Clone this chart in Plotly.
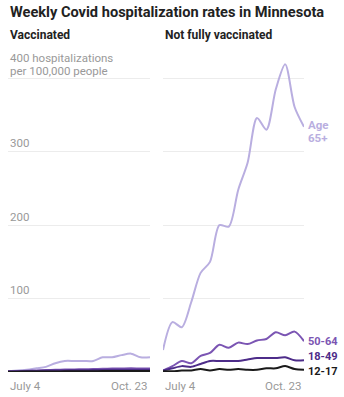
import plotly.graph_objects as go

# Weekly hospitalizations per 100,000 people, Minnesota, July 4 - Oct. 23
weeks = list(range(1, 17))
x_tick_labels = ["July 4", "Oct. 23"]
y_ticks = [100, 200, 300, 400]
y_unit_lines = ["400 hospitalizations", "per 100,000 people"]

age_groups = ["12-17", "18-49", "50-64", "65+"]

vaccinated_12_17 = [0.5, 0.5, 0.6, 0.7, 0.8, 0.8, 0.9, 1.0, 1.0, 1.1, 1.2, 1.2, 1.3, 1.4, 1.3, 1.3]
vaccinated_18_49 = [0.8, 1.0, 1.2, 1.5, 1.8, 2.0, 2.2, 2.3, 2.4, 2.6, 2.8, 3.0, 3.1, 3.2, 3.0, 3.0]
vaccinated_50_64 = [1.0, 1.3, 1.7, 2.2, 2.7, 3.0, 3.3, 3.5, 3.7, 4.0, 4.3, 4.6, 4.8, 5.0, 4.7, 4.6]
vaccinated_65 = [1, 2, 3, 5, 7, 12, 15, 15, 15, 15, 20, 20, 23, 25, 20, 20]

unvaccinated_12_17 = [1, 1, 2, 2, 4, 2, 4, 3, 4, 3, 3, 5, 5, 8, 4, 3]
unvaccinated_18_49 = [2, 5, 8, 7, 11, 15, 15, 15, 15, 17, 19, 19, 19, 20, 16, 16]
unvaccinated_50_64 = [2, 8, 15, 12, 22, 26, 37, 33, 40, 38, 43, 45, 54, 50, 55, 42]
unvaccinated_65 = [30, 68, 61, 95, 135, 150, 200, 198, 248, 285, 346, 330, 385, 419, 361, 334]

colors = {"12-17": "#1a1a1a", "18-49": "#4d2c89", "50-64": "#7b55b3", "65+": "#b9aee0"}

vaccinated = {"12-17": vaccinated_12_17, "18-49": vaccinated_18_49,
              "50-64": vaccinated_50_64, "65+": vaccinated_65}
unvaccinated = {"12-17": unvaccinated_12_17, "18-49": unvaccinated_18_49,
                "50-64": unvaccinated_50_64, "65+": unvaccinated_65}

FONT = "Roboto"
W, H = 344, 397

fig = go.Figure()

# draw the oldest group first so the darker lines sit on top
for age in reversed(age_groups):
    fig.add_trace(go.Scatter(x=weeks, y=vaccinated[age], mode="lines",
                             line=dict(color=colors[age], width=2, shape="spline", smoothing=0.8),
                             xaxis="x", yaxis="y", showlegend=False, hoverinfo="skip"))
    fig.add_trace(go.Scatter(x=weeks, y=unvaccinated[age], mode="lines",
                             line=dict(color=colors[age], width=2, shape="spline", smoothing=0.8),
                             xaxis="x2", yaxis="y2", showlegend=False, hoverinfo="skip"))

y_range = [0, 430]
y_domain = [1 - 372 / H, 1 - (372 - 430 * 0.7342) / H]
grid = dict(showgrid=True, gridcolor="#ececec", gridwidth=1, tickvals=y_ticks,
            showticklabels=False, zeroline=False, showline=False, range=y_range,
            domain=y_domain, fixedrange=True)
xax = dict(showgrid=False, zeroline=False, showline=False, showticklabels=False,
           range=[weeks[0], weeks[-1]], fixedrange=True)

fig.update_layout(
    width=W, height=H,
    margin=dict(l=0, r=0, t=0, b=0),
    paper_bgcolor="white", plot_bgcolor="white",
    xaxis=dict(xax, domain=[8 / W, 150 / W]),
    xaxis2=dict(xax, domain=[163 / W, 304 / W]),
    yaxis=dict(grid, anchor="x"),
    yaxis2=dict(grid, anchor="x2"),
)

GRAY = dict(family=FONT, size=11.5, color="#999")
ann = []
# title and panel headings
ann.append(dict(text="<b>Weekly Covid hospitalization rates in Minnesota</b>",
                x=8 / W, y=1 - 12 / H, xref="paper", yref="paper",
                xanchor="left", yanchor="middle", showarrow=False,
                font=dict(family=FONT, size=14.6, color="#222")))
ann.append(dict(text="<b>Vaccinated</b>", x=8 / W, y=1 - 35 / H, xref="paper", yref="paper",
                xanchor="left", yanchor="middle", showarrow=False,
                font=dict(family=FONT, size=12, color="#222")))
ann.append(dict(text="<b>Not fully vaccinated</b>", x=163 / W, y=1 - 35 / H, xref="paper",
                yref="paper", xanchor="left", yanchor="middle", showarrow=False,
                font=dict(family=FONT, size=12, color="#222")))

# y-axis labels sit above the gridlines in the left panel
for v in y_ticks[:-1]:
    ann.append(dict(text=str(v), x=weeks[0], y=v, xref="x", yref="y",
                    xanchor="left", yanchor="middle", yshift=8.5, showarrow=False,
                    font=GRAY))
for i, line in enumerate(y_unit_lines):
    ann.append(dict(text=line, x=weeks[0], y=y_ticks[-1], xref="x", yref="y",
                    xanchor="left", yanchor="middle", yshift=7.5 + 12.5 * (1 - i),
                    showarrow=False, font=GRAY))

# x-axis end labels for both panels
for xr in ("x", "x2"):
    ann.append(dict(text=x_tick_labels[0], x=weeks[0], y=1 - 386 / H, xref=xr, yref="paper",
                    xanchor="left", yanchor="middle", showarrow=False, font=GRAY))
    ann.append(dict(text=x_tick_labels[1], x=weeks[-1], y=1 - 386 / H, xref=xr, yref="paper",
                    xanchor="right", yanchor="middle", showarrow=False, font=GRAY))

# series labels at the end of the unvaccinated lines (pixel offsets keep them apart)
label_y = {"50-64": 341, "18-49": 356, "12-17": 371}
for age in ["50-64", "18-49", "12-17"]:
    ann.append(dict(text=f"<b>{age}</b>", x=weeks[-1], y=1 - label_y[age] / H,
                    xref="x2", yref="paper", xanchor="left", yanchor="middle",
                    xshift=3, showarrow=False, borderpad=0,
                    font=dict(family=FONT, size=11, color=colors[age])))
for i, line in enumerate(["Age", "65+"]):
    ann.append(dict(text=f"<b>{line}</b>", x=weeks[-1], y=1 - (125 + 13 * i) / H,
                    xref="x2", yref="paper", xanchor="left", yanchor="middle",
                    xshift=3, showarrow=False, borderpad=0,
                    font=dict(family=FONT, size=11.5, color=colors["65+"])))

fig.update_layout(annotations=ann)
fig.write_html("out.html")
